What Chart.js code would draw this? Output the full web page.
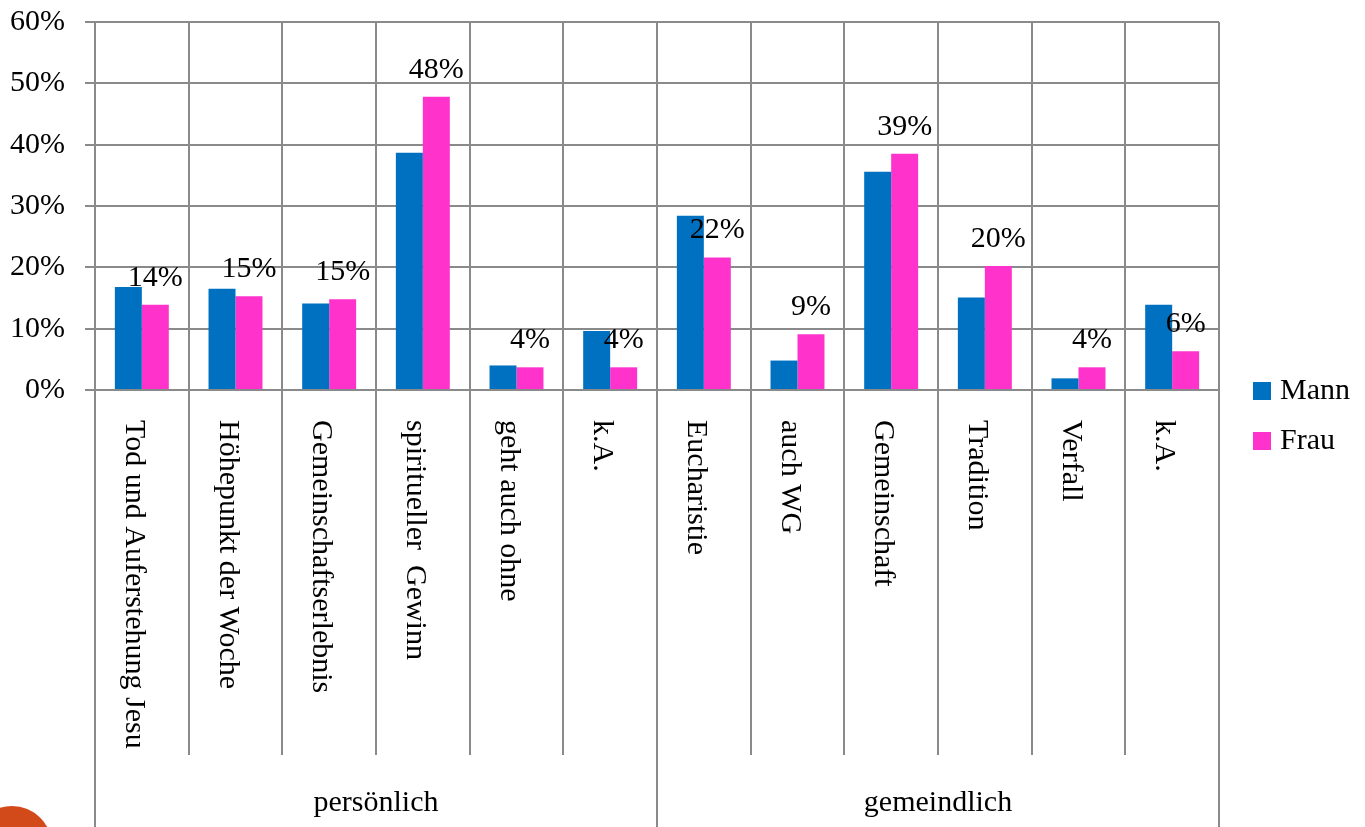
<!DOCTYPE html>
<html>
<head>
<meta charset="utf-8">
<script src="https://cdn.jsdelivr.net/npm/chart.js@4/dist/chart.umd.min.js"></script>
<style>
  html, body { margin: 0; padding: 0; background: #fff; }
  #wrap { width: 1365px; height: 827px; }
</style>
</head>
<body>
<div id="wrap"><canvas id="chart" width="1365" height="827"></canvas></div>
<script>
// --- data ---
const categories = ['Tod und Auferstehung Jesu', 'Höhepunkt der Woche', 'Gemeinschaftserlebnis',
  'spiritueller  Gewinn', 'geht auch ohne', 'k.A.', 'Eucharistie', 'auch WG', 'Gemeinschaft',
  'Tradition', 'Verfall', 'k.A.'];
const groupNames = ['persönlich', 'gemeindlich'];
const groupSizes = [6, 6];
const seriesNames = ['Mann', 'Frau'];
const mann = [16.8, 16.5, 14.1, 38.7, 4.0, 9.6, 28.4, 4.8, 35.6, 15.1, 1.9, 13.9];
const frau = [13.9, 15.3, 14.8, 47.8, 3.7, 3.7, 21.6, 9.1, 38.5, 20.2, 3.7, 6.3];
const yTicks = [0, 10, 20, 30, 40, 50, 60];

const FONT = '"Liberation Serif", "Times New Roman", serif';
const GRID = '#8a8a8a';
const colors = ['#0070C0', '#FF33CC'];

// extra drawing: rotated labels, group row, value labels, legend
const extras = {
  id: 'extras',
  beforeDraw(chart) {
    const ctx = chart.ctx;
    ctx.save();
    ctx.fillStyle = '#D24A1A';
    ctx.beginPath();
    ctx.arc(12, 846, 40, 0, Math.PI * 2);
    ctx.fill();
    ctx.restore();
  },
  afterDraw(chart) {
    const ctx = chart.ctx;
    const x = chart.scales.x;
    const area = chart.chartArea;
    ctx.save();

    // dividers under the axis
    ctx.strokeStyle = GRID;
    ctx.lineWidth = 2;
    const groupEdges = [0];
    groupSizes.forEach(n => groupEdges.push(groupEdges[groupEdges.length - 1] + n));
    for (let i = 0; i <= categories.length; i++) {
      const bx = Math.round(x.getPixelForValue(i - 0.5));
      const isGroup = groupEdges.includes(i);
      ctx.beginPath();
      ctx.moveTo(bx, area.bottom);
      ctx.lineTo(bx, isGroup ? 827 : 755);
      ctx.stroke();
    }

    // category labels, rotated clockwise
    ctx.fillStyle = '#000';
    ctx.font = '30px ' + FONT;
    ctx.textAlign = 'left';
    ctx.textBaseline = 'middle';
    categories.forEach((c, i) => {
      ctx.save();
      ctx.translate(x.getPixelForValue(i) - 8, 420);
      ctx.rotate(Math.PI / 2);
      ctx.fillText(c, 0, 0);
      ctx.restore();
    });

    // group labels
    ctx.textAlign = 'center';
    groupNames.forEach((g, k) => {
      const x0 = x.getPixelForValue(groupEdges[k] - 0.5);
      const x1 = x.getPixelForValue(groupEdges[k + 1] - 0.5);
      ctx.fillText(g, (x0 + x1) / 2, 803);
    });

    // value labels over the Frau bars
    const meta = chart.getDatasetMeta(1);
    meta.data.forEach((bar, i) => {
      ctx.fillText(Math.round(frau[i]) + '%', bar.x, bar.y - 27);
    });

    // legend
    ctx.textAlign = 'left';
    seriesNames.forEach((name, k) => {
      const ly = 391 + k * 50;
      ctx.fillStyle = colors[k];
      ctx.fillRect(1253, ly - 9, 18, 18);
      ctx.fillStyle = '#000';
      ctx.fillText(name, 1280, ly);
    });

    ctx.restore();
  }
};

new Chart(document.getElementById('chart'), {
  type: 'bar',
  data: {
    labels: categories,
    datasets: [
      { label: seriesNames[0], data: mann, backgroundColor: colors[0] },
      { label: seriesNames[1], data: frau, backgroundColor: colors[1] }
    ]
  },
  options: {
    responsive: false,
    devicePixelRatio: 1,
    animation: false,
    datasets: {
      bar: { categoryPercentage: 0.576, barPercentage: 1.0 }
    },
    layout: { padding: { top: 22, right: 146, left: 0, bottom: 0 } },
    plugins: {
      legend: { display: false },
      tooltip: { enabled: false }
    },
    scales: {
      x: {
        grid: { color: GRID, lineWidth: 2, drawTicks: false, offset: true },
        border: { color: GRID, width: 2 },
        ticks: { display: false },
        afterFit: s => { s.height = 437; s.paddingLeft = 0; s.paddingRight = 0; }
      },
      y: {
        min: yTicks[0],
        max: yTicks[yTicks.length - 1],
        afterBuildTicks: s => { s.ticks = yTicks.map(v => ({ value: v })); },
        grid: { color: GRID, lineWidth: 2, tickLength: 10 },
        border: { color: GRID, width: 2 },
        ticks: {
          padding: 20,
          color: '#000',
          font: { family: FONT, size: 30 },
          callback: v => v + '%'
        },
        afterFit: s => { s.width = 95; s.paddingTop = 0; s.paddingBottom = 0; }
      }
    }
  },
  plugins: [extras]
});
</script>
</body>
</html>
